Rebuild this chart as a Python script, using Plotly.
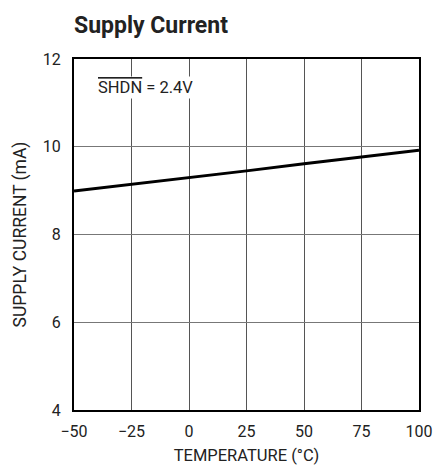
import plotly.graph_objects as go

temperature = [-50, -25, 0, 25, 50, 75, 100]
supply_current = [8.99, 9.14, 9.30, 9.45, 9.61, 9.77, 9.92]
x_ticks = [-50, -25, 0, 25, 50, 75, 100]
x_tick_labels = ["\u221250", "\u221225", "0", "25", "50", "75", "100"]
y_ticks = [4, 6, 8, 10, 12]

FONT = "Roboto, Liberation Sans, sans-serif"
W, H = 436, 457  # page has ~8px body margin

fig = go.Figure()
fig.add_trace(go.Scatter(x=temperature, y=supply_current, mode="lines",
                         line=dict(color="black", width=3), showlegend=False))

fig.update_layout(
    width=W, height=H,
    margin=dict(l=66, r=17, t=51, b=55),
    paper_bgcolor="white", plot_bgcolor="white",
    font=dict(family=FONT, size=16, color="#222"),
    title=dict(text="<b>Supply Current</b>", x=66/W, xanchor="left",
               y=1-17/H, yanchor="middle",
               font=dict(family=FONT, size=23, color="#222")),
)
fig.update_xaxes(range=[-50, 100], tickvals=x_ticks, ticktext=x_tick_labels,
                 showgrid=True, gridcolor="#555", gridwidth=1,
                 showline=True, linecolor="black", linewidth=2, mirror=True,
                 ticks="", zeroline=False, ticklabelstandoff=6,
                 automargin="left+right",
                 title=dict(text="TEMPERATURE (\u00b0C)", standoff=9,
                            font=dict(size=16.5)))
fig.update_yaxes(range=[4, 12], tickvals=y_ticks,
                 showgrid=True, gridcolor="#777", gridwidth=1,
                 showline=True, linecolor="black", linewidth=2, mirror=True,
                 ticks="", zeroline=False, ticklabelstandoff=8, automargin=False,
                 title=dict(text="SUPPLY CURRENT (mA)", standoff=12,
                            font=dict(size=17.5)))

fig.add_annotation(x=-40.5, y=11.35, xref="x", yref="y", xanchor="left",
                   yanchor="middle", showarrow=False, bgcolor="white",
                   text="<span style='text-decoration:overline'>SHDN</span> = 2.4V",
                   font=dict(size=16.5, color="#222"))

fig.write_html("out.html")
